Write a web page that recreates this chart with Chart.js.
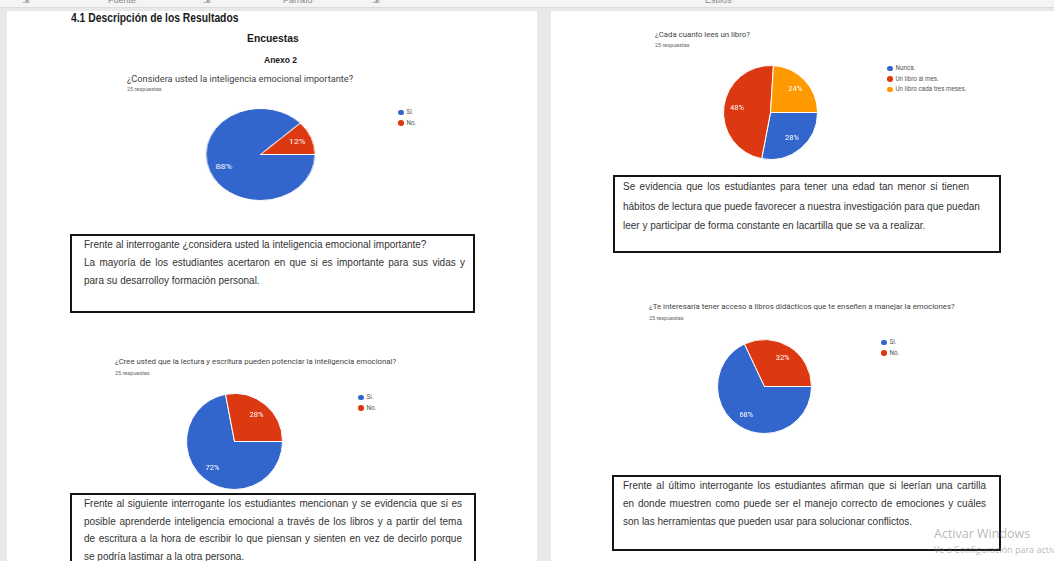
<!DOCTYPE html>
<html lang="es">
<head>
<meta charset="utf-8">
<title>Encuestas</title>
<script src="https://cdn.jsdelivr.net/npm/chart.js@4.4.0/dist/chart.umd.min.js"></script>
<style>
  html, body { margin: 0; padding: 0; }
  body {
    width: 1054px; height: 561px; overflow: hidden; position: relative;
    background: #e9e9e9;
    font-family: "Liberation Sans", Arial, sans-serif;
  }
  .ribbon { position: absolute; left: 0; top: 0; width: 1054px; height: 7px; background: #f4f4f4; overflow: hidden; border-bottom: 1px solid #dcdcdc; }
  .ribbon span { position: absolute; top: -5px; font-size: 9px; color: #888; }
  .page { position: absolute; top: 11px; height: 560px; background: #fff; }
  .abs { position: absolute; white-space: nowrap; }
  .title { font-weight: bold; color: #1a1a1a; }
  .question { color: #444; font-family: Roboto, Arial, sans-serif; }
  .answers { color: #666; font-family: Roboto, Arial, sans-serif; font-size: 5.5px; }
  .box { position: absolute; border: 2px solid #151515; box-sizing: border-box; color: #333; font-size: 10px; }
  .box div { white-space: nowrap; }
  .box .j { text-align: justify; text-align-last: justify; }
  .legend { position: absolute; font-family: Roboto, Arial, sans-serif; font-size: 6.3px; color: #555; }
  .legend .row { height: 10.5px; display: flex; align-items: center; white-space: nowrap; }
  .legend .dot { width: 5.5px; height: 5.5px; border-radius: 50%; margin-right: 3px; flex: none; }
  canvas.pie { position: absolute; }
  .wm1 { font-family: "Open Sans", "Noto Sans", sans-serif; font-size: 12.5px; color: rgba(120,120,120,0.55); }
  .wm2 { font-family: "Open Sans", "Noto Sans", sans-serif; font-size: 9px; color: rgba(120,120,120,0.55); }
</style>
</head>
<body>

<div class="ribbon">
  <span style="left:22px">&#8690;</span>
  <span style="left:108px">Fuente</span>
  <span style="left:203px">&#8690;</span>
  <span style="left:283px">Párrafo</span>
  <span style="left:372px">&#8690;</span>
  <span style="left:705px">Estilos</span>
</div>

<div class="page" style="left:7px; width:530px;"></div>
<div class="page" style="left:551px; width:503px;"></div>

<!-- left page -->
<div class="abs title" style="left:71px; top:11px; font-size:12px; transform:scaleX(0.86); transform-origin:left top;">4.1 Descripción de los Resultados</div>
<div class="abs title" style="left:247px; top:32px; font-size:11.5px; transform:scaleX(0.9); transform-origin:left top;">Encuestas</div>
<div class="abs title" style="left:264px; top:55px; font-size:8.5px;">Anexo 2</div>

<div class="abs question" style="left:127px; top:73px; font-size:9.2px;">¿Considera usted la inteligencia emocional importante?</div>
<div class="abs answers" style="left:127px; top:86px;">25 respuestas</div>
<canvas class="pie" id="pie1" width="93" height="93" style="left:213.5px; top:107.5px; width:93px; height:93px; transform:scaleX(1.19);"></canvas>
<div class="legend" id="legend1" style="left:398px; top:107px;"></div>

<div class="box" style="left:70px; top:234px; width:405px; height:79px; padding:0 8px 0 12px; line-height:18px;">
  <div>Frente al interrogante ¿considera usted la inteligencia emocional importante?</div>
  <div class="j">La mayoría de los estudiantes acertaron en que si es importante para sus vidas y</div>
  <div>para su desarrolloy formación personal.</div>
</div>

<div class="abs question" style="left:115px; top:357px; font-size:7.8px;">¿Cree usted que la lectura y escritura pueden potenciar la inteligencia emocional?</div>
<div class="abs answers" style="left:115px; top:370px;">25 respuestas</div>
<canvas class="pie" id="pie2" width="97" height="97" style="left:185.5px; top:392.5px; width:97px; height:97px;"></canvas>
<div class="legend" id="legend2" style="left:358px; top:392px;"></div>

<div class="box" style="left:70px; top:493px; width:406px; height:90px; padding:0 12px 0 12px; line-height:17.7px;">
  <div class="j">Frente al siguiente interrogante los estudiantes mencionan y se evidencia que si es</div>
  <div class="j">posible aprenderde inteligencia emocional a través de los libros y a partir del tema</div>
  <div class="j">de escritura a la hora de escribir lo que piensan y sienten en vez de decirlo porque</div>
  <div>se podría lastimar a la otra persona.</div>
</div>

<!-- right page -->
<div class="abs question" style="left:655px; top:30px; font-size:7.8px;">¿Cada cuanto lees un libro?</div>
<div class="abs answers" style="left:655px; top:42px;">25 respuestas</div>
<canvas class="pie" id="pie3" width="95" height="95" style="left:722.5px; top:64.5px; width:95px; height:95px;"></canvas>
<div class="legend" id="legend3" style="left:887px; top:63px;"></div>

<div class="box" style="left:613px; top:175px; width:388px; height:78px; padding:0 30px 0 8px; line-height:19.5px;">
  <div class="j">Se evidencia que los estudiantes para tener una edad tan menor si tienen</div>
  <div class="j">hábitos de lectura que puede favorecer a nuestra investigación para que puedan</div>
  <div>leer y participar de forma constante en lacartilla que se va a realizar.</div>
</div>

<div class="abs question" style="left:649px; top:302px; font-size:7.8px;">¿Te interesaría tener acceso a libros didácticos que te enseñen a manejar la emociones?</div>
<div class="abs answers" style="left:649px; top:315px;">25 respuestas</div>
<canvas class="pie" id="pie4" width="95" height="95" style="left:716.5px; top:338.5px; width:95px; height:95px;"></canvas>
<div class="legend" id="legend4" style="left:881px; top:337px;"></div>

<div class="box" style="left:612px; top:475px; width:389px; height:76px; padding:0 13px 0 9px; line-height:18px;">
  <div class="j">Frente al último interrogante los estudiantes afirman que si leerían una cartilla</div>
  <div class="j">en donde muestren como puede ser el manejo correcto de emociones y cuáles</div>
  <div>son las herramientas que pueden usar para solucionar conflictos.</div>
</div>

<div class="abs wm1" style="left:934px; top:525px;">Activar Windows</div>
<div class="abs wm2" style="left:934px; top:543px;">Ve a Configuración para activar Windows.</div>

<script>
// survey answers (percent of 25 responses)
const q1Labels = ["Sí.", "No."];
const q1Values = [88, 12];

const q2Labels = ["Sí.", "No."];
const q2Values = [72, 28];

const q3Labels = ["Nunca.", "Un libro al mes.", "Un libro cada tres meses."];
const q3Values = [28, 48, 24];

const q4Labels = ["Sí.", "No."];
const q4Values = [68, 32];

const sliceColors = ["#3366cc", "#dc3912", "#ff9900"];

// white % text inside each slice
const pctLabels = {
  id: "pctLabels",
  afterDatasetsDraw(chart) {
    const ctx = chart.ctx;
    const values = chart.data.datasets[0].data;
    const total = values.reduce((a, b) => a + b, 0);
    ctx.save();
    ctx.fillStyle = "#ffffff";
    ctx.font = "7.5px Roboto, Arial, sans-serif";
    ctx.textAlign = "center";
    ctx.textBaseline = "middle";
    chart.getDatasetMeta(0).data.forEach((arc, i) => {
      const p = arc.getProps(["x", "y", "startAngle", "endAngle", "outerRadius"], true);
      const mid = (p.startAngle + p.endAngle) / 2;
      const r = p.outerRadius * 0.72;
      ctx.fillText(Math.round(values[i] / total * 100) + "%", p.x + Math.cos(mid) * r, p.y + Math.sin(mid) * r);
    });
    ctx.restore();
  }
};

function makePie(id, labels, values) {
  new Chart(document.getElementById(id), {
    type: "pie",
    data: {
      labels: labels,
      datasets: [{
        data: values,
        backgroundColor: sliceColors.slice(0, values.length),
        borderColor: "#ffffff",
        borderWidth: 1
      }]
    },
    options: {
      responsive: false,
      animation: false,
      rotation: 90,
      layout: { padding: 0 },
      plugins: {
        legend: { display: false },
        tooltip: { enabled: false }
      }
    },
    plugins: [pctLabels]
  });
}

function makeLegend(id, labels) {
  const box = document.getElementById(id);
  labels.forEach((label, i) => {
    const row = document.createElement("div");
    row.className = "row";
    const dot = document.createElement("span");
    dot.className = "dot";
    dot.style.background = sliceColors[i];
    row.appendChild(dot);
    row.appendChild(document.createTextNode(label));
    box.appendChild(row);
  });
}

makePie("pie1", q1Labels, q1Values);
makePie("pie2", q2Labels, q2Values);
makePie("pie3", q3Labels, q3Values);
makePie("pie4", q4Labels, q4Values);

makeLegend("legend1", q1Labels);
makeLegend("legend2", q2Labels);
makeLegend("legend3", q3Labels);
makeLegend("legend4", q4Labels);
</script>
</body>
</html>
